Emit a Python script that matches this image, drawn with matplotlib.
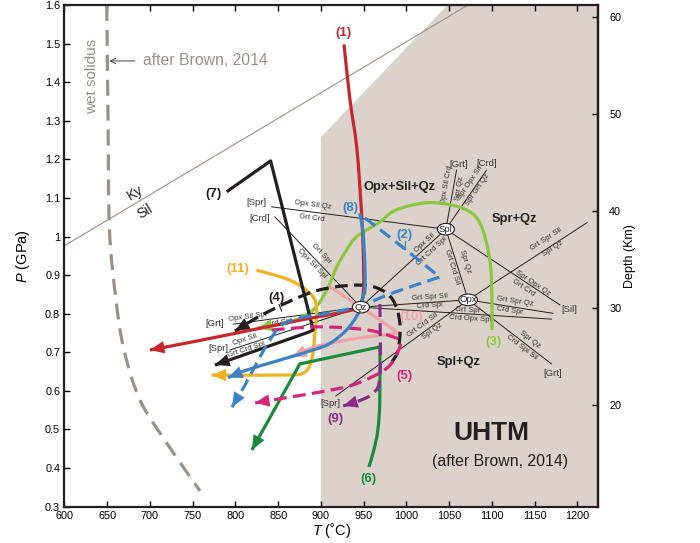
import matplotlib
matplotlib.use("Agg")
import matplotlib.pyplot as plt
from matplotlib.patches import Ellipse, Polygon, PathPatch
from matplotlib.path import Path

plt.rcParams['font.family'] = ['Liberation Sans', 'DejaVu Sans']
plt.rcParams['mathtext.fontset'] = 'custom'
plt.rcParams['mathtext.it'] = 'Liberation Sans:italic'
plt.rcParams['mathtext.rm'] = 'Liberation Sans'

# ---------------- data ----------------
# UHTM field (after Brown, 2014)
uhtm_T = [900, 900, 1048, 1224, 1224]
uhtm_P = [0.3, 1.258, 1.6, 1.6, 0.3]

# Ky/Sil boundary
kysil_T = [600, 1072]
kysil_P = [0.976, 1.6]

# wet solidus
sol_T = [649.6, 651.1, 652.8, 660.4, 669.8, 688.5, 719.7, 758.6]
sol_P = [1.6, 1.302, 1.017, 0.836, 0.706, 0.576, 0.465, 0.341]

# invariant points
inv_names = ['Qz', 'Spl', 'Opx']
inv_T = [946.7, 1046.1, 1072.1]
inv_P = [0.817, 1.019, 0.836]

# univariant reaction lines (T1, P1, T2, P2)
rx_T1 = [1046.1, 946.7, 946.7, 946.7, 946.7, 946.7, 946.7, 1072.1, 1072.1, 1072.1, 1072.1, 1046.1, 1046.1, 1046.1, 1046.1]
rx_P1 = [1.019, 0.817, 0.817, 0.817, 0.817, 0.817, 0.817, 0.836, 0.836, 0.836, 0.836, 1.019, 1.019, 1.019, 1.019]
rx_T2 = [842.4, 846.2, 797.5, 793.6, 1046.1, 1072.1, 1169.6, 1171.4, 1169.6, 1211.2, 917.5, 1072.1, 1058.6, 1093.6, 1179.3]
rx_P2 = [1.077, 1.051, 0.773, 0.706, 1.019, 0.836, 0.786, 0.801, 0.670, 1.036, 0.587, 0.836, 1.172, 1.172, 0.823]

# reaction labels
rl_text = ["Opx Sil Qz", "Grt Crd", "Grt Spr", "Opx Sil Spl", "Opx Sil Spr", "Crd Spl",
           "Opx Sil", "Grt Crd Spl", "Grt Spr Sil", "Crd Spl", "Grt Spr", "Crd Opx Spl",
           "Grt Spr Qz", "Crd Spr", "Spr Qz", "Crd Spl Sil", "Grt Spr Sil", "Spl Qz",
           "Grt Crd Sil", "Spl Qz", "Opx Sil", "Grt Crd Spl", "Grt Crd Sil", "Spr Qz",
           "Opx Sil Crd", "Spr Qz", "Spr Opx Sil", "Spr Grt Qz", "Spr Opx Qz", "Grt Crd"]
rl_T = [890.6, 889.1, 900.8, 889.1, 815, 852, 811.2, 813.1, 1027.4, 1027.4, 1072.1, 1074.1,
        1126.7, 1120.9, 1144.2, 1134.5, 1163.7, 1171.4, 1019.2, 1030.9, 1021.5, 1029.3,
        1052.7, 1068.3, 1046.9, 1062.4, 1074.1, 1083.8, 1148.1, 1136.4]
rl_P = [1.0817, 1.0481, 0.9566, 0.9307, 0.7923, 0.7752, 0.7319, 0.706, 0.8426, 0.82, 0.8097,
        0.7856, 0.8312, 0.8078, 0.732, 0.713, 0.9929, 0.9695, 0.7708, 0.7534, 0.9825, 0.9607,
        0.9219, 0.9348, 1.1336, 1.125, 1.138, 1.1206, 0.8788, 0.8659]
rl_rot = [-7.4, -7.4, -46.5, -46.5, 7.5, 7.5, 18, 18, 3.9, 3.9, -3.6, -3.6, -8.9, -8.9,
          -37.5, -37.5, 33, 33, 36, 36, 42.5, 42.5, -72.5, -72.5, 80, 80, 55.5, 55.5, -33.7, -33.7]

# absent-phase labels
ab_text = ["[Spr]", "[Crd]", "[Grt]", "[Spr]", "[Spr]", "[Grt]", "[Crd]", "[Sil]", "[Grt]"]
ab_T = [824.8, 828.7, 776.1, 780.0, 910.5, 1061.6, 1094.3, 1190.0, 1171.1]
ab_P = [1.0887, 1.0473, 0.7734, 0.709, 0.568, 1.1872, 1.19, 0.8122, 0.6438]

# field labels
fld_text = ["Opx+Sil+Qz", "Spr+Qz", "Spl+Qz"]
fld_T = [992.3, 1126.7, 1061.6]
fld_P = [1.129, 1.045, 0.676]

# P-T paths
p1_T = [927, 934, 942, 947.5, 949.5, 950, 948, 940, 875, 817, 759, 700]
p1_P = [1.498, 1.354, 1.229, 1.061, 0.957, 0.874, 0.836, 0.812, 0.783, 0.757, 0.731, 0.706]

p2_T = [951.4, 992.3, 1039.0, 986.5, 951.4, 922.2, 875.4, 854.4, 842.7, 828.7, 811.2, 796.0]
p2_P = [1.048, 0.978, 0.895, 0.856, 0.825, 0.807, 0.789, 0.771, 0.740, 0.688, 0.615, 0.558]

p3_T = [1100, 1100, 1097.5, 1086, 1066, 1027, 988, 969, 942, 930, 918, 907, 891, 864, 826]
p3_P = [0.758, 0.836, 0.939, 1.035, 1.073, 1.088, 1.069, 1.038, 1.000, 0.965, 0.919, 0.862, 0.810, 0.779, 0.763]

p4_T = [983, 990.3, 992.3, 984.1, 965.4, 937.4, 898.8, 867.3, 828.7, 799.5]
p4_P = [0.675, 0.706, 0.776, 0.836, 0.867, 0.874, 0.862, 0.836, 0.794, 0.755]

p5_T = [842.7, 898.8, 953.7, 984.1, 993.5, 986.5, 977.1, 959.6, 933.9, 898.8, 863.8, 822.9]
p5_P = [0.758, 0.766, 0.758, 0.740, 0.727, 0.685, 0.659, 0.636, 0.613, 0.597, 0.584, 0.569]

p6_T = [956.1, 961.9, 966.6, 968.9, 969.0, 875.4, 819.3]
p6_P = [0.403, 0.447, 0.499, 0.576, 0.714, 0.670, 0.447]

p7_T = [789.8, 841.2, 891.0, 886.5, 776.1]
p7_P = [1.116, 1.196, 0.758, 0.753, 0.667]

p8_T = [945.5, 949.4, 951.4, 951.4, 949.4, 943.6, 930.0, 910.5, 891.0, 852.1, 813.2, 791.3]
p8_P = [1.060, 1.008, 0.922, 0.862, 0.843, 0.801, 0.758, 0.723, 0.706, 0.680, 0.654, 0.634]

p9_T = [969, 969, 961, 942, 926]
p9_P = [0.825, 0.639, 0.594, 0.572, 0.561]

p10_T = [910.5, 945.5, 969, 990, 930.3, 890.6, 866.1]
p10_P = [0.870, 0.818, 0.784, 0.750, 0.732, 0.712, 0.688]

p11_T = [824.8, 863.8, 887.1, 894.9, 893.0, 889.1, 879.3, 852.1, 772.2]
p11_P = [0.913, 0.887, 0.853, 0.818, 0.749, 0.680, 0.646, 0.641, 0.641]

path_labels = ["(1)", "(2)", "(3)", "(4)", "(5)", "(6)", "(7)", "(8)", "(9)", "(10)", "(11)"]
label_T = [926.5, 998.1, 1101.3, 848.2, 998.1, 956, 774.4, 933.9, 917, 1006, 803.3]
label_P = [1.527, 1.004, 0.7275, 0.840, 0.6386, 0.373, 1.1096, 1.0732, 0.526, 0.7907, 0.9159]

# ---------------- styles ----------------
RED = '#c9252c'
BLUE = '#3b83c4'
LGREEN = '#8cc63e'
BLACK = '#231f20'
MAG = '#d4257b'
DGREEN = '#1d8a3b'
PURPLE = '#8b2b87'
PINK = '#f2a0a8'
YELLOW = '#efb322'
GRAY = '#9a918b'
SHADE = '#dbd3cb'

fig = plt.figure(figsize=(7.0, 5.43), dpi=100)
ax = fig.add_axes([0.0919, 0.0669, 0.7624, 0.9239])
ax.set_xlim(600, 1224)
ax.set_ylim(0.3, 1.6)


def smooth_path(T, P, corners=()):
    """Catmull-Rom through the read points, drawn as cubic Bezier segments."""
    pts = list(zip(T, P))
    n = len(pts)
    verts = [pts[0]]
    codes = [Path.MOVETO]
    last_c2 = (pts[0], pts[0])
    for i in range(n - 1):
        p0 = pts[i - 1] if (i > 0 and i not in corners) else pts[i]
        p1 = pts[i]
        p2 = pts[i + 1]
        p3 = pts[i + 2] if (i + 2 < n and (i + 1) not in corners) else pts[i + 1]
        c1 = (p1[0] + (p2[0] - p0[0]) / 6, p1[1] + (p2[1] - p0[1]) / 6)
        c2 = (p2[0] - (p3[0] - p1[0]) / 6, p2[1] - (p3[1] - p1[1]) / 6)
        verts += [c1, c2, p2]
        codes += [Path.CURVE4] * 3
        last_c2 = (p1, c2)
    return Path(verts, codes), last_c2


def draw_path(T, P, color, dashed=False, corners=(), z=6, arrow=True, lw=2.3, dash=(4, 2)):
    path, (prev, c2) = smooth_path(T, P, corners)
    ls = (0, dash) if dashed else '-'
    ax.add_patch(PathPatch(path, facecolor='none', edgecolor=color, lw=lw, linestyle=ls,
                           zorder=z, capstyle='butt', joinstyle='round'))
    if arrow:
        tip = (T[-1], P[-1])
        back = (tip[0] - 3 * (tip[0] - c2[0]), tip[1] - 3 * (tip[1] - c2[1]))
        ax.annotate('', xy=tip, xytext=back,
                    arrowprops=dict(arrowstyle='-|>,head_length=0.75,head_width=0.32',
                                    facecolor=color, edgecolor='none', lw=0,
                                    mutation_scale=14, shrinkA=0, shrinkB=0), zorder=z)


ax.add_patch(Polygon(list(zip(uhtm_T, uhtm_P)), closed=True, facecolor=SHADE,
                     edgecolor='none', zorder=0))
ax.plot(kysil_T, kysil_P, color=GRAY, lw=0.8, zorder=1)
ax.text(682.7, 1.114, "Ky", rotation=31, fontsize=10, ha='center', va='center', color='#222')
ax.text(694.3, 1.065, "Sil", rotation=31, fontsize=10, ha='center', va='center', color='#222')

draw_path(sol_T, sol_P, GRAY, dashed=True, z=2, arrow=False, lw=2.3, dash=(5, 2.8))
ax.text(632, 1.415, "wet solidus", rotation=90, fontsize=11, color=GRAY, ha='center', va='center')
ax.annotate('', xy=(652.5, 1.455), xytext=(682.6, 1.455),
            arrowprops=dict(arrowstyle='->', color='#444', lw=0.7, shrinkA=0, shrinkB=0))
ax.text(692.3, 1.455, "after Brown, 2014", fontsize=11.3, color=GRAY, ha='left', va='center')

# reaction lines
for t1, p1, t2, p2 in zip(rx_T1, rx_P1, rx_T2, rx_P2):
    ax.plot([t1, t2], [p1, p2], color=BLACK, lw=0.7, zorder=3)
for s, t, p, r in zip(rl_text, rl_T, rl_P, rl_rot):
    ax.text(t, p, s, rotation=r, rotation_mode='anchor', fontsize=5.6, color='#333',
            ha='center', va='center', zorder=4)
for s, t, p in zip(ab_text, ab_T, ab_P):
    ax.text(t, p, s, fontsize=6.8, color='#333', ha='center', va='center', zorder=4)
for s, t, p in zip(fld_text, fld_T, fld_P):
    ax.text(t, p, s, fontsize=9.3, fontweight='bold', color='#222', ha='center', va='center', zorder=4)

ax.text(1099.5, 0.490, "UHTM", fontsize=19, fontweight='bold', color='#231f20', ha='center', va='center')
ax.text(1109.2, 0.4166, "(after Brown, 2014)", fontsize=11.4, color='#231f20', ha='center', va='center')

draw_path(p3_T, p3_P, LGREEN, z=5)
draw_path(p11_T, p11_P, YELLOW, z=5)
draw_path(p7_T, p7_P, BLACK, corners=(1, 2, 3), z=5)
draw_path(p6_T, p6_P, DGREEN, corners=(4, 5), z=5)
draw_path(p10_T, p10_P, PINK, corners=(3,), z=6)
draw_path(p4_T, p4_P, BLACK, dashed=True, z=6)
draw_path(p5_T, p5_P, MAG, dashed=True, z=6)
draw_path(p9_T, p9_P, PURPLE, dashed=True, z=6)
draw_path(p1_T, p1_P, RED, z=7)
draw_path(p8_T, p8_P, BLUE, z=7)
draw_path(p2_T, p2_P, BLUE, dashed=True, corners=(2,), z=7)

# invariant point ellipses
for n, t, p in zip(inv_names, inv_T, inv_P):
    w = 22 if n == 'Opx' else 20
    ax.add_patch(Ellipse((t, p), w, 0.03, facecolor='white', edgecolor=BLACK, lw=0.8, zorder=9))
    ax.text(t, p, n, fontsize=6.8, ha='center', va='center', color='#222', zorder=10)

lab_colors = [RED, BLUE, LGREEN, BLACK, MAG, DGREEN, BLACK, BLUE, PURPLE, PINK, YELLOW]
for s, t, p, c in zip(path_labels, label_T, label_P, lab_colors):
    ax.text(t, p, s, fontsize=9.5, fontweight='bold', color=c, ha='center', va='center', zorder=11)
# leader lines
ax.plot([998.1, 998.1], [0.989, 0.968], color=BLUE, lw=0.8, zorder=8)
ax.plot([851.2, 854.0], [0.824, 0.807], color=BLACK, lw=0.8, zorder=8)

# axes styling
for sp in ax.spines.values():
    sp.set_linewidth(1.6)
    sp.set_color('#231f20')
ax.set_xticks(range(600, 1201, 50))
ax.set_yticks([0.3 + 0.1 * i for i in range(14)])
ax.set_yticklabels(['0.3', '0.4', '0.5', '0.6', '0.7', '0.8', '0.9', '1', '1.1', '1.2',
                    '1.3', '1.4', '1.5', '1.6'])
ax.tick_params(axis='both', direction='in', length=4, width=1, labelsize=7.8, pad=3,
               top=True, right=False)
ax.set_xlabel('$\\mathit{T}$ (˚C)', fontsize=10.5, labelpad=0)
ax.set_ylabel('$\\mathit{P}$ (GPa)', fontsize=10.5, labelpad=9)

sec = ax.secondary_yaxis('right', functions=(lambda p: 39.78 * p - 2.41,
                                              lambda d: (d + 2.41) / 39.78))
sec.set_yticks([20, 30, 40, 50, 60])
sec.tick_params(direction='in', length=4, width=1, labelsize=7.8, pad=8)
sec.spines['right'].set_linewidth(1.6)
sec.set_ylabel('Depth (Km)', fontsize=9, labelpad=2)

fig.savefig('out.png', dpi=100)
